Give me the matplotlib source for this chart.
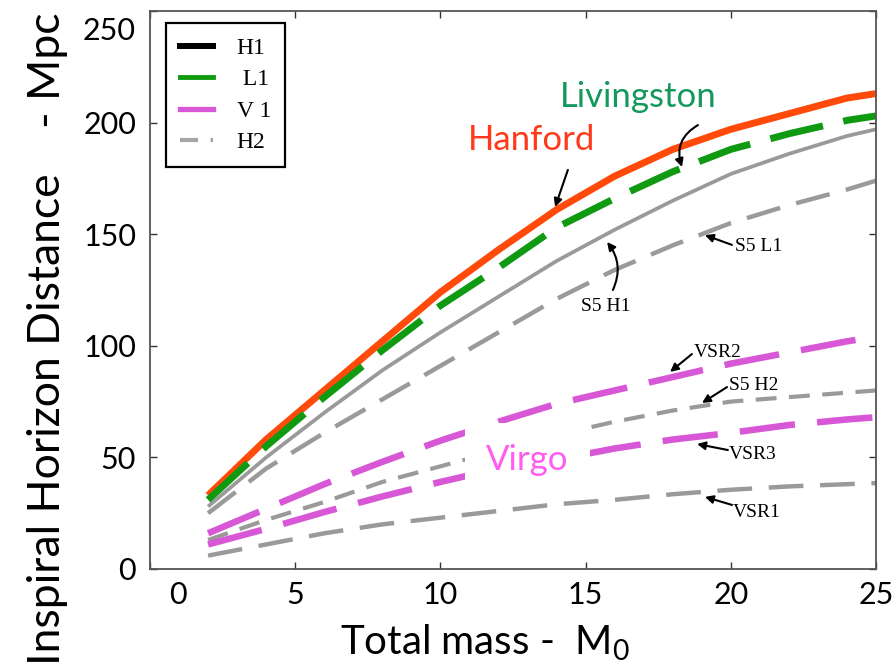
import numpy as np
import matplotlib
matplotlib.use("Agg")
import matplotlib.pyplot as plt
from matplotlib.lines import Line2D
from matplotlib.transforms import ScaledTranslation

plt.rcParams["font.family"] = ["Lato", "DejaVu Sans"]
plt.rcParams["lines.scale_dashes"] = False
plt.rcParams["mathtext.default"] = "regular"

# total mass (solar masses) and horizon distances (Mpc)
mass = [2, 4, 6, 8, 10, 12, 14, 16, 18, 20, 22, 24, 25]
h1 = [33, 58, 80, 102, 124, 143, 161, 176, 188, 197, 204, 211, 213]
l1 = [31, 55, 77, 98, 118, 135, 153, 166, 178, 188, 195, 201, 203]
s5_h1 = [28, 50, 70, 89, 106, 122, 138, 152, 165, 177, 186, 194, 197]
s5_l1 = [25, 45, 61, 76, 91, 106, 121, 134, 145, 155, 163, 170, 174]
vsr2 = [16, 27, 38, 48, 57.5, 66, 74, 80, 86, 92, 97, 102, 104]
s5_h2 = [13, 22, 30, 39, 46, 53, 60, 66, 71, 75, 77, 79, 80]
vsr3 = [11, 18, 25.5, 32.5, 39, 45, 49, 54, 58, 61, 64.5, 67, 68]
vsr1 = [6, 11, 16, 20, 23, 26, 29, 31, 33.5, 35.5, 37, 38, 38.5]

red = "#ff4a0a"
green = "#0f9a12"
magenta = "#d857d6"
grey = "#9a9a9a"

fig = plt.figure(figsize=(8.95, 6.66), dpi=100)
ax = fig.add_axes([150/895, 1-569/666, 726/895, 558/666])

ax.plot(mass, s5_h1, color=grey, lw=2.7, solid_capstyle="butt")
ax.plot(mass, s5_l1, color=grey, lw=3.2, ls=(0, (25, 12)))
ax.plot(mass, s5_h2, color=grey, lw=3.0, ls=(0, (15, 9)))
ax.plot(mass, vsr1, color=grey, lw=3.2, ls=(0, (25, 12)))
ax.plot(mass, vsr2, color=magenta, lw=4.7, ls=(0, (40, 16)))
ax.plot(mass, vsr3, color=magenta, lw=4.7, ls=(0, (40, 16)))
ax.plot(mass, h1, color=red, lw=5, solid_capstyle="butt")
ax.plot(mass, l1, color=green, lw=5, ls=(0, (39, 15)))

ax.set_xlim(0, 25)
ax.set_ylim(0, 250)
ax.set_xticks([0, 5, 10, 15, 20, 25])
ax.set_yticks([0, 50, 100, 150, 200, 250])
ax.tick_params(direction="in", top=True, right=True, length=5, width=1,
               labelsize=22, color="#333333")
ax.tick_params(axis="x", pad=9)
ax.tick_params(axis="y", pad=10)
for s in ax.spines.values():
    s.set_color("#555555")
    s.set_linewidth(1.3)

xl = ax.get_xticklabels()
xl[0].set_transform(xl[0].get_transform() + ScaledTranslation(0.28, 0, fig.dpi_scale_trans))
yl = ax.get_yticklabels()
yl[-1].set_transform(yl[-1].get_transform() + ScaledTranslation(0, -0.17, fig.dpi_scale_trans))

ax.set_xlabel("Total mass -  M$_\\mathregular{0}$", fontsize=29, ha="left", va="baseline")
ax.xaxis.set_label_coords(0.262, -0.154)
ax.set_ylabel("Inspiral Horizon Distance    - Mpc", fontsize=32, ha="right", va="baseline")
ax.yaxis.set_label_coords(-0.124, 0.998)

# big detector names
ax.text(13.15, 192.2, "Hanford", color="#ff3a1a", fontsize=25, ha="center", va="center")
ax.text(16.8, 211.5, "Livingston", color="#13995c", fontsize=25, ha="center", va="center")
ax.text(13.0, 48.8, "Virgo", color="#ff5cf0", fontsize=25, ha="center", va="center", zorder=5,
        bbox=dict(boxstyle="square,pad=0.6", fc="white", ec="none"))

arrow = dict(arrowstyle="-|>", color="black", lw=1.5, mutation_scale=12, shrinkA=0, shrinkB=0)
ax.annotate("", xy=(13.95, 162.2), xytext=(14.39, 178.8), arrowprops=arrow)
ax.annotate("", xy=(18.32, 180.1), xytext=(18.87, 198.9),
            arrowprops=dict(arrow, connectionstyle="arc3,rad=0.4"))
ax.annotate("", xy=(15.74, 146.5), xytext=(15.94, 125.0),
            arrowprops=dict(arrow, connectionstyle="arc3,rad=0.3"))

# small run labels
labels = ["S5 H1", "S5 L1", "VSR2", "S5 H2", "VSR3", "VSR1"]
text_xy = [(15.70, 118.7), (20.97, 145.2), (19.56, 98.1), (20.80, 82.9), (20.76, 52.4), (20.90, 26.4)]
start_xy = [None, (20.04, 145.2), (18.66, 96.3), (19.87, 81.5), (19.90, 53.3), (20.04, 28.7)]
tip_xy = [None, (19.11, 149.6), (17.91, 88.3), (19.01, 74.4), (18.84, 56.0), (19.11, 32.3)]
for lab, t, a, b in zip(labels, text_xy, start_xy, tip_xy):
    ax.text(t[0], t[1], lab, family="Liberation Serif", fontsize=14,
            ha="center", va="center_baseline")
    if a is not None:
        ax.annotate("", xy=b, xytext=a, arrowprops=arrow)

handles = [
    Line2D([], [], color="black", lw=4.3),
    Line2D([], [], color=green, lw=3.5),
    Line2D([], [], color=magenta, lw=3.8),
    Line2D([], [], color="#a6a6a6", lw=3.0, ls=(0, (13, 9))),
]
leg = ax.legend(handles, ["H1", " L1", "V 1", "H2"], loc="upper left",
                bbox_to_anchor=(0.022, 0.978), borderaxespad=0,
                prop={"family": "Liberation Serif", "size": 17},
                handlelength=1.4, handletextpad=1.0, borderpad=0.6,
                labelspacing=0.42, fancybox=False, framealpha=1)
leg.get_frame().set_edgecolor("black")
leg.get_frame().set_linewidth(1.6)

fig.savefig("out.png", dpi=100)
